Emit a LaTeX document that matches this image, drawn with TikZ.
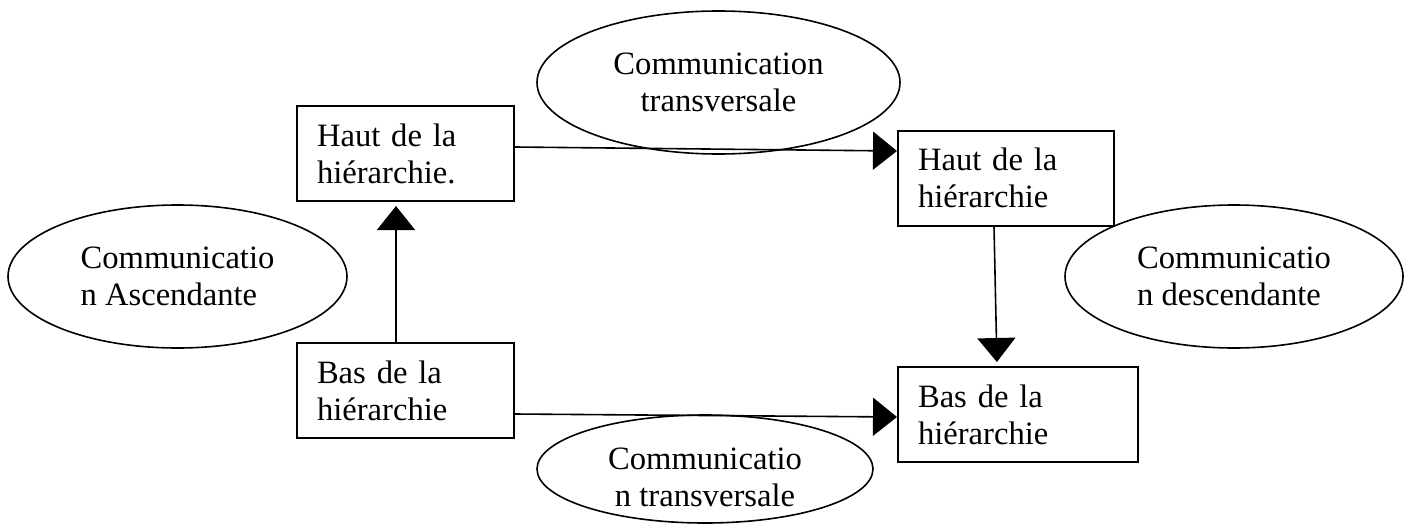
\documentclass[tikz,border=0pt]{standalone}
\usepackage{fontspec}
\setmainfont{Liberation Serif}
\usetikzlibrary{shapes.geometric,arrows.meta}
\begin{document}
\begin{tikzpicture}[x=0.5pt,y=-0.5pt,
  every node/.style={font=\fontsize{16.3pt}{18.5pt}\selectfont},
  box/.style={draw,line width=1pt,rectangle,align=left,inner xsep=10pt,inner ysep=0pt,minimum height=47.5pt},
  oval/.style={draw,line width=0.8pt,ellipse,inner sep=0pt},
  arr/.style={line width=0.8pt,-{Triangle[length=12pt,width=19pt]}}]
\useasboundingbox (0,0) rectangle (1408,525);
% boxes
\node[box,text width=88.5pt] (A) at (405.5,153.5) {Haut de la\\hiérarchie.};
\node[box,text width=88pt] (B) at (1006,178) {Haut de la\\hiérarchie};
\node[box,text width=88.5pt] (C) at (405.5,390.5) {Bas de la\\hiérarchie};
\node[box,text width=100pt] (D) at (1018,414.5) {Bas de la\\hiérarchie};
% ellipses
\node[oval,align=center,minimum width=181.5pt,minimum height=71.5pt] (E1) at (718.5,82.5) {Communication\\transversale};
\node[oval,align=left,minimum width=169.5pt,minimum height=71.5pt] (E2) at (177.5,276.5) {Communicatio\\n Ascendante};
\node[oval,align=left,minimum width=169pt,minimum height=71.5pt] (E3) at (1234,276.5) {Communicatio\\n descendante};
\node[oval,minimum width=168pt,minimum height=54pt,
  label={[name=E4t,align=center,yshift=-4pt]center:Communicatio\\n transversale}] (E4) at (705,469) {};
% connectors
\draw[arr] ([yshift=3.25pt]A.east) -- ([yshift=13.5pt]B.west);
\draw[arr,shorten >=2pt] ([xshift=-4.75pt]C.north) -- ([xshift=-4.75pt]A.south);
\draw[arr,shorten >=2pt] ([xshift=-6pt]B.south) -- ([xshift=-10.5pt]D.north);
\draw[arr] ([yshift=-11.75pt]C.east) -- ([yshift=-1.25pt]D.west);
\end{tikzpicture}
\end{document}
